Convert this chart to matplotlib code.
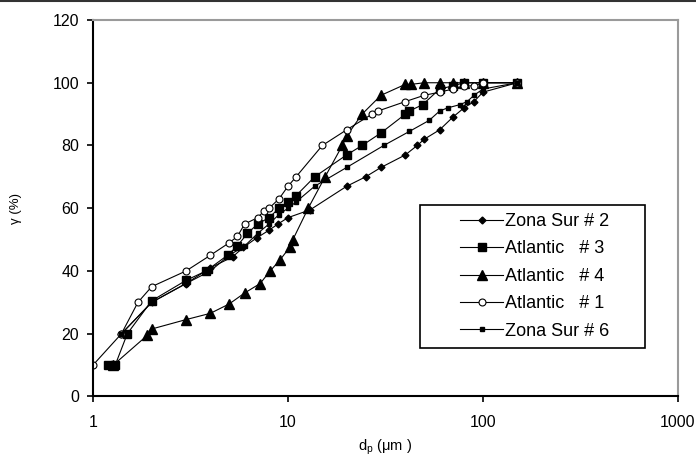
import matplotlib
matplotlib.use("Agg")
import matplotlib.pyplot as plt
from matplotlib.lines import Line2D
from matplotlib.patches import Rectangle

plt.rcParams['font.family'] = ['Liberation Sans', 'DejaVu Sans']

# particle size d_p (um) and cumulative fraction (%)
zs2_d = [1.4, 2.0, 3.0, 4.0, 5.2, 5.9, 6.9, 8.0, 8.9, 10, 13, 20, 25, 30, 40, 46, 50, 60, 70, 80, 90, 100, 150]
zs2_v = [20, 30, 36, 41, 44.5, 47.5, 50.5, 53, 55, 57, 59.5, 67, 70, 73, 77, 80, 82, 85, 89, 92, 94, 97, 100]

at3_d = [1.2, 1.3, 1.5, 2.0, 3.0, 3.8, 4.9, 5.5, 6.2, 7.0, 8.0, 9.0, 10, 11, 13.7, 20, 24, 30, 40, 42, 49, 60, 70, 80, 100, 150]
at3_v = [10, 10, 20, 30.5, 37, 40, 45, 48, 52, 55, 57, 60, 62, 64, 70, 77, 80, 84, 90, 91, 93, 98, 99, 100, 100, 100]

at4_d = [1.27, 1.9, 2.0, 3.0, 4.0, 5.0, 6.0, 7.2, 8.1, 9.1, 10.2, 10.6, 12.7, 15.5, 19, 20, 24, 30, 40, 43, 50, 60, 70, 80, 100, 150]
at4_v = [10, 19.5, 21.5, 24.5, 26.5, 29.5, 33, 36, 40, 43.5, 47.5, 50, 60, 70, 80, 83, 90, 96, 99.5, 99.5, 100, 100, 100, 100, 100, 100]

at1_d = [1.0, 1.4, 1.7, 2.0, 3.0, 4.0, 5.0, 5.5, 6.0, 7.0, 7.5, 8.0, 9.0, 10, 11, 15, 20, 27, 29, 40, 50, 60, 70, 80, 90, 100, 150]
at1_v = [10, 20, 30, 35, 40, 45, 49, 51, 55, 57, 59, 60, 63, 67, 70, 80, 85, 90, 91, 94, 96, 97, 98, 99, 99, 100, 100]

zs6_d = [1.4, 2.0, 3.0, 4.0, 5.0, 6.0, 7.0, 8.0, 9.0, 10, 11, 13.7, 20, 31, 42, 53, 60, 66, 76, 83, 90, 100, 150]
zs6_v = [20, 30, 36, 40, 45, 48, 52, 55, 58, 60, 62, 67, 73, 80, 84.5, 88, 91, 92, 93, 94, 96, 98, 100]

x_ticks = [1, 10, 100, 1000]
x_ticklabels = ['1', '10', '100', '1000']
y_ticks = [0, 20, 40, 60, 80, 100, 120]

fig = plt.figure(figsize=(6.96, 4.61), dpi=100)
ax = fig.add_axes([0.1336, 0.140, 0.8404, 0.8166])

lw = 0.8
ax.plot(zs2_d, zs2_v, color='k', lw=lw, marker='D', ms=3.5, label='Zona Sur # 2')
ax.plot(at3_d, at3_v, color='k', lw=lw, marker='s', ms=6, label='Atlantic   # 3')
ax.plot(at4_d, at4_v, color='k', lw=lw, marker='^', ms=6.5, label='Atlantic   # 4')
ax.plot(at1_d, at1_v, color='k', lw=lw, marker='o', ms=5, mfc='white', mew=0.8, label='Atlantic   # 1')
ax.plot(zs6_d, zs6_v, color='k', lw=lw, marker='s', ms=2.5, label='Zona Sur # 6')

ax.set_xscale('log')
ax.set_xlim(1, 1000)
ax.set_ylim(0, 120)
ax.set_xticks(x_ticks)
ax.set_xticklabels(x_ticklabels)
ax.xaxis.set_minor_locator(matplotlib.ticker.NullLocator())
ax.set_yticks(y_ticks)
ax.tick_params(axis='both', direction='out', length=4, width=1.2, labelsize=11.5, pad=6)
ax.tick_params(axis='x', pad=9)

ax.spines['left'].set_linewidth(1.5)
ax.spines['bottom'].set_linewidth(1.5)
ax.spines['top'].set_color('#9a9a9a')
ax.spines['right'].set_color('#9a9a9a')
ax.spines['top'].set_linewidth(1.5)
ax.spines['right'].set_linewidth(1.5)

ax.set_xlabel(r'd$_\mathregular{p}$ ($\mathregular{\mu}$m )', fontsize=10.5, labelpad=6)
ax.set_ylabel('γ (%)', fontsize=9.5, labelpad=22)

# legend entries without frame, frame drawn separately (wider side padding)
leg = ax.legend(loc='center', bbox_to_anchor=(0.755, 0.319), fontsize=13,
                frameon=False, handlelength=2.4, handletextpad=0.1,
                labelspacing=0.58, borderpad=0, borderaxespad=0)
ax.add_patch(Rectangle((0.559, 0.129), 0.385, 0.38, transform=ax.transAxes,
                       fill=False, edgecolor='k', lw=1.2, zorder=5))

# top border of the picture
fig.add_artist(Line2D([0, 1], [0.998, 0.998], color='#333333', lw=1.5))

fig.savefig('out.png', dpi=100)
